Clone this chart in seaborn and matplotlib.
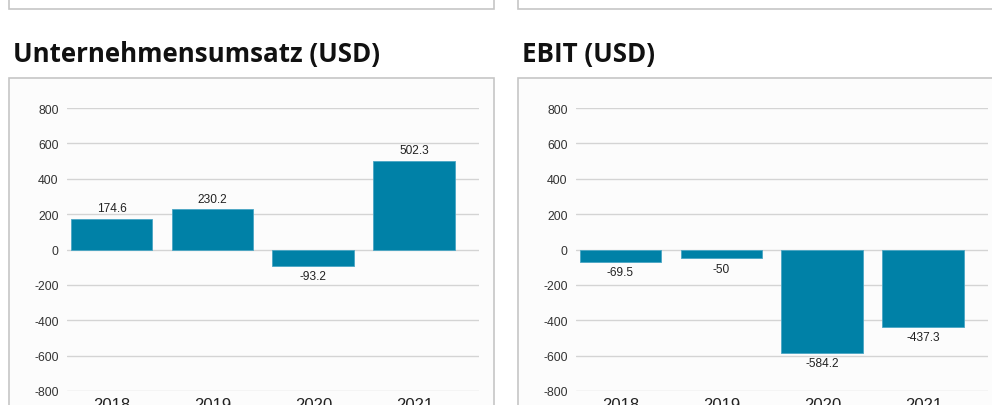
import matplotlib
matplotlib.use("Agg")
import matplotlib.pyplot as plt
from matplotlib.patches import Rectangle
import seaborn as sns
import pandas as pd

sns.set_theme(style="white")
plt.rcParams["font.family"] = ["Liberation Sans", "DejaVu Sans"]

years = ["2018", "2019", "2020", "2021"]
umsatz = [174.6, 230.2, -93.2, 502.3]
ebit = [-69.5, -50.0, -584.2, -437.3]
titles = ["Unternehmensumsatz (USD)", "EBIT (USD)"]
yticks = [-800, -600, -400, -200, 0, 200, 400, 600, 800]

W, H = 992, 406
BAR = "#0081a7"
BORDER = "#c6c6c6"
GRID = "#d4d4d4"

fig = plt.figure(figsize=(W / 100, H / 100), dpi=100)
fig.patch.set_facecolor("white")


def box(x0, y0, x1, y1, fc="white"):
    # rectangle given in pixel coordinates from the top-left corner
    fig.add_artist(Rectangle((x0 / W, 1 - y1 / H), (x1 - x0) / W, (y1 - y0) / H,
                             transform=fig.transFigure, facecolor=fc,
                             edgecolor=BORDER, linewidth=1.2, zorder=0))


def fmt(v):
    s = f"{v:.1f}"
    return s[:-2] if s.endswith(".0") else s


panels = [(9, umsatz), (518, ebit)]
for (px, values), title in zip(panels, titles):
    # box of the panel above, only its lower edge is visible
    box(px, -20, px + 485, 10)
    # panel frame
    box(px, 79, px + 485, 430, fc="#fcfcfc")
    fig.text((px + 4) / W, 1 - 62 / H, title, fontsize=18.6, fontweight="bold",
             family=["Open Sans", "DejaVu Sans"], color="#111111", va="baseline")

    left, right, top, bottom = px + 58, px + 470, 109, 392
    ax = fig.add_axes([left / W, 1 - bottom / H, (right - left) / W, (bottom - top) / H])
    ax.set_facecolor("none")
    df = pd.DataFrame({"Jahr": years, "Wert": values})
    sns.barplot(data=df, x="Jahr", y="Wert", color=BAR, saturation=1, width=0.81,
                edgecolor="#4aa6c4", linewidth=0.6, ax=ax, zorder=3)
    ax.set_xlim(-0.44, 3.64)
    ax.set_ylim(-800, 800)
    ax.set_yticks(yticks)
    ax.set_yticklabels([str(t) for t in yticks], fontsize=8.8, color="#333333")
    ax.yaxis.grid(True, color=GRID, linewidth=1.0, zorder=0)
    ax.set_axisbelow(True)
    for s in ax.spines.values():
        s.set_visible(False)
    ax.tick_params(axis="y", length=0, pad=6)
    ax.tick_params(axis="x", length=0, pad=4, labelsize=12, labelcolor="#222222")
    ax.set_xlabel("")
    ax.set_ylabel("")
    for cont in ax.containers:
        labels = [fmt(v) for v in values]
        ax.bar_label(cont, labels=labels, fontsize=8.6, color="#222222", padding=3)

fig.savefig("out.png", dpi=100, facecolor="white")
